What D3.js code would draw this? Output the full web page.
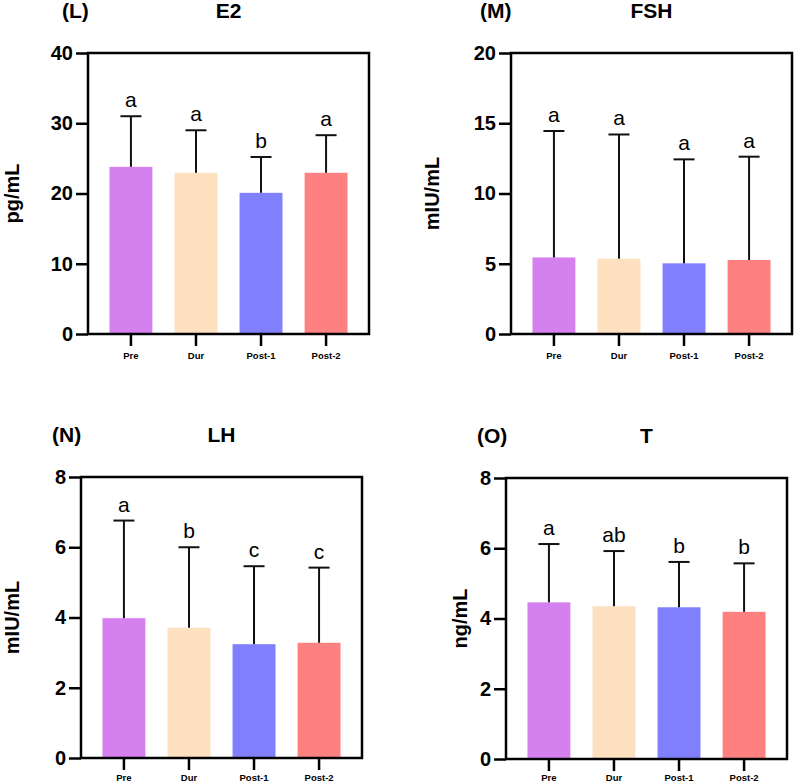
<!DOCTYPE html>
<meta charset="utf-8">
<style>
  body { margin: 0; background: #fff; }
  svg { display: block; font-family: Arial, "Liberation Sans", Helvetica, sans-serif; }
  .axis .domain { stroke: none; }
  .axis .tick line { stroke: #000; stroke-width: 2.5; }
  .axis--y .tick text { font-size: 20px; font-weight: bold; fill: #000; }
  .axis--x .tick text { font-size: 9.5px; font-weight: bold; fill: #000; }
</style>

<body>
  <script src="https://d3js.org/d3.v7.min.js"></script>
  <script>
    var groups = ["Pre", "Dur", "Post-1", "Post-2"];
    var colors = ["#d580ef", "#fde0c0", "#8080ff", "#ff8080"];

    // mean and sd
    var e2Mean = [23.8, 22.95, 20.1, 22.95];
    var e2Sd = [7.2, 6.05, 5.1, 5.35];
    var e2Letters = ["a", "a", "b", "a"];
    var e2Ticks = [0, 10, 20, 30, 40];

    var fshMean = [5.45, 5.36, 5.03, 5.27];
    var fshSd = [9.0, 8.84, 7.4, 7.35];
    var fshLetters = ["a", "a", "a", "a"];
    var fshTicks = [0, 5, 10, 15, 20];

    var lhMean = [3.98, 3.71, 3.24, 3.28];
    var lhSd = [2.78, 2.29, 2.22, 2.14];
    var lhLetters = ["a", "b", "c", "c"];
    var lhTicks = [0, 2, 4, 6, 8];

    var tMean = [4.46, 4.35, 4.32, 4.19];
    var tSd = [1.66, 1.57, 1.29, 1.38];
    var tLetters = ["a", "ab", "b", "b"];
    var tTicks = [0, 2, 4, 6, 8];

    var width = 794,
      height = 783;

    var svg = d3.select("body").append("svg")
      .attr("width", width)
      .attr("height", height);

    var panels = [
      { tag: "(L)", title: "E2", unit: "pg/mL", mean: e2Mean, sd: e2Sd, letters: e2Letters, ticks: e2Ticks,
        left: 88, top: 53, tagX: 62, unitX: 18.5, xPad: 6 },
      { tag: "(M)", title: "FSH", unit: "mIU/mL", mean: fshMean, sd: fshSd, letters: fshLetters, ticks: fshTicks,
        left: 511, top: 53, tagX: 480, unitX: 439, xPad: 6 },
      { tag: "(N)", title: "LH", unit: "mIU/mL", mean: lhMean, sd: lhSd, letters: lhLetters, ticks: lhTicks,
        left: 81, top: 477, tagX: 52, unitX: 18.5, xPad: 4 },
      { tag: "(O)", title: "T", unit: "ng/mL", mean: tMean, sd: tSd, letters: tLetters, ticks: tTicks,
        left: 506, top: 478, tagX: 477, unitX: 467, xPad: 3 }
    ];

    var pw = 281,
      ph = 281;

    panels.forEach(function (p) {
      var g = svg.append("g")
        .attr("transform", "translate(" + p.left + "," + p.top + ")");

      var x = d3.scaleBand()
        .domain(groups)
        .range([0, pw])
        .paddingInner(0.34)
        .paddingOuter(0.33);

      var y = d3.scaleLinear()
        .domain([p.ticks[0], p.ticks[p.ticks.length - 1]])
        .range([ph, 0]);

      var rows = groups.map(function (k, i) {
        return { key: k, mean: p.mean[i], sd: p.sd[i], letter: p.letters[i], color: colors[i] };
      });

      // bars
      g.selectAll("rect.bar")
        .data(rows)
        .enter().append("rect")
        .attr("class", "bar")
        .attr("x", function (d) { return x(d.key); })
        .attr("width", x.bandwidth())
        .attr("y", function (d) { return y(d.mean); })
        .attr("height", function (d) { return y(0) - y(d.mean); })
        .style("fill", function (d) { return d.color; });

      // error bars (upper only)
      var eb = g.selectAll("g.err")
        .data(rows)
        .enter().append("g")
        .attr("class", "err")
        .attr("transform", function (d) { return "translate(" + (x(d.key) + x.bandwidth() / 2) + ",0)"; });

      eb.append("line")
        .attr("y1", function (d) { return y(d.mean); })
        .attr("y2", function (d) { return y(d.mean + d.sd); })
        .style("stroke", "#111")
        .style("stroke-width", 2);

      eb.append("line")
        .attr("x1", -10.5)
        .attr("x2", 10.5)
        .attr("y1", function (d) { return y(d.mean + d.sd); })
        .attr("y2", function (d) { return y(d.mean + d.sd); })
        .style("stroke", "#111")
        .style("stroke-width", 2);

      eb.append("text")
        .attr("y", function (d) { return y(d.mean + d.sd) - 9; })
        .attr("text-anchor", "middle")
        .style("font-size", "21px")
        .text(function (d) { return d.letter; });

      // axes
      g.append("g")
        .attr("class", "axis axis--y")
        .call(d3.axisLeft(y).tickValues(p.ticks).tickSize(12).tickPadding(3).tickFormat(d3.format("d")));

      g.append("g")
        .attr("class", "axis axis--x")
        .attr("transform", "translate(0," + ph + ")")
        .call(d3.axisBottom(x).tickSize(12).tickPadding(p.xPad));

      // frame
      g.append("rect")
        .attr("width", pw)
        .attr("height", ph)
        .style("fill", "none")
        .style("stroke", "#000")
        .style("stroke-width", 2.5);

      // titles
      g.append("text")
        .attr("x", p.tagX - p.left)
        .attr("y", -35)
        .style("font-size", "21px")
        .style("font-weight", "bold")
        .text(p.tag);

      g.append("text")
        .attr("x", pw / 2)
        .attr("y", -35)
        .attr("text-anchor", "middle")
        .style("font-size", "21px")
        .style("font-weight", "bold")
        .text(p.title);

      g.append("text")
        .attr("transform", "translate(" + (p.unitX - p.left) + "," + (ph / 2) + ") rotate(-90)")
        .attr("text-anchor", "middle")
        .style("font-size", "20px")
        .style("font-weight", "bold")
        .text(p.unit);
    });
  </script>
</body>
